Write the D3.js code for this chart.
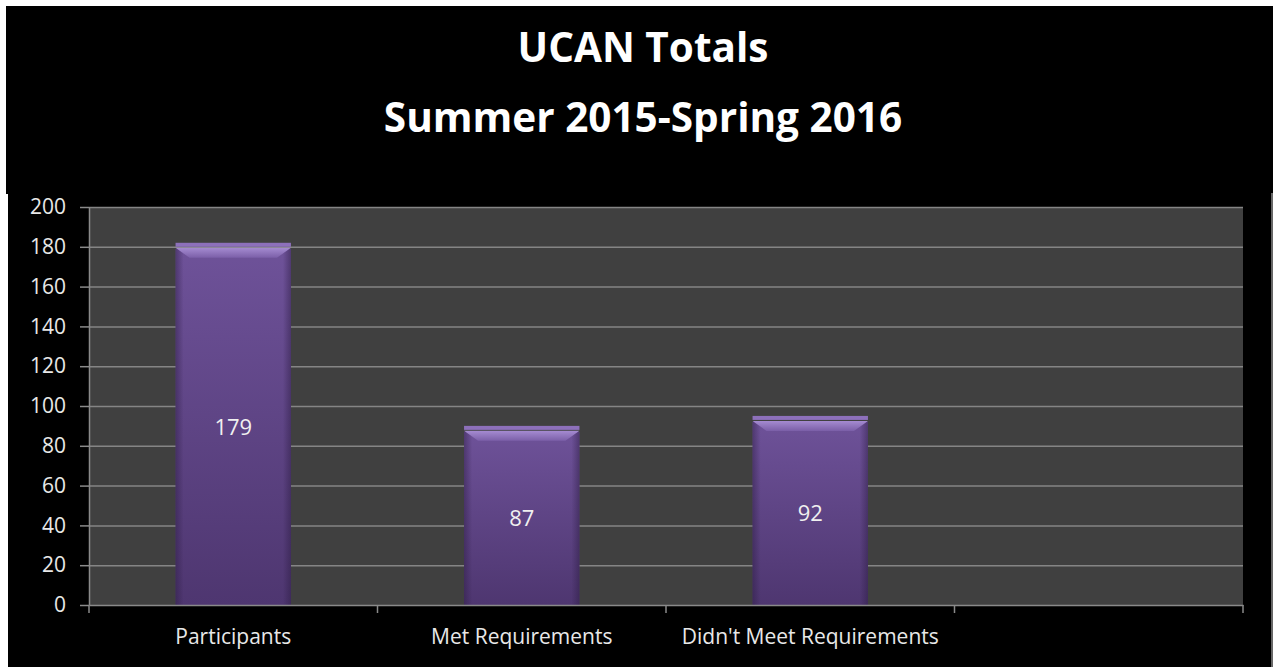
<!DOCTYPE html>
<html lang="en">
<head>
<meta charset="UTF-8">
<title>UCAN Totals</title>
<script src="https://d3js.org/d3.v7.min.js"></script>
<style>
html, body {
  margin: 0;
  padding: 0;
  background-color: white;
}
body {
  font-family: 'Open Sans', sans-serif;
}
.title {
  font-family: 'Open Sans', sans-serif;
  font-weight: bold;
  fill: white;
  text-anchor: middle;
}
.y-axis text, .x-axis text {
  font-family: 'Open Sans', sans-serif;
  font-size: 21px;
  fill: #e8e8e8;
}
.y-axis path, .x-axis path { stroke: #8a8a8a; stroke-width: 1.5; }
.y-axis line, .x-axis line { stroke: #8a8a8a; stroke-width: 1.5; }
.grid line { stroke: #858585; stroke-width: 1.5; }
.grid path { display: none; }
.bar-label {
  font-family: 'Open Sans', sans-serif;
  font-size: 22px;
  fill: #f0f0f0;
  text-anchor: middle;
}
</style>
</head>
<body>
<div id="chart"></div>
<script>

// data
const categories = ["Participants", "Met Requirements", "Didn't Meet Requirements", ""];
const values = [179, 87, 92, null];
const yTicks = [0, 20, 40, 60, 80, 100, 120, 140, 160, 180, 200];
const titleLines = ["UCAN Totals", "Summer 2015-Spring 2016"];

// size
const totalWidth = 1273, totalHeight = 667;
const margin = {top: 207, right: 30, bottom: 62, left: 89};

const svg = d3.select("#chart").append("svg")
  .attr("width", totalWidth)
  .attr("height", totalHeight)
  .style("display", "block");

// backgrounds
svg.append("rect").attr("x", 6).attr("y", 6)
  .attr("width", totalWidth - 6).attr("height", 188).attr("fill", "black");
svg.append("rect").attr("x", 8).attr("y", 193)
  .attr("width", totalWidth - 8).attr("height", totalHeight - 193).attr("fill", "black");
svg.append("line")
  .attr("x1", totalWidth - 1).attr("x2", totalWidth - 1)
  .attr("y1", 193).attr("y2", totalHeight)
  .attr("stroke", "#8a8a8a").attr("stroke-width", 1.5);

// title
svg.selectAll(".title")
  .data(titleLines)
  .join("text")
  .attr("class", "title")
  .attr("x", 643)
  .attr("y", (d, i) => i === 0 ? 62 : 132)
  .style("font-size", "40.5px")
  .text(d => d);

// scales
const x = d3.scaleBand()
  .domain(categories)
  .range([margin.left, totalWidth - margin.right])
  .padding(0);

const y = d3.scaleLinear()
  .domain([0, 200])
  .range([totalHeight - margin.bottom, margin.top]);

// plot area
svg.append("rect")
  .attr("x", margin.left)
  .attr("y", y(200))
  .attr("width", x.range()[1] - margin.left)
  .attr("height", y(0) - y(200))
  .attr("fill", "#404040");

// gridlines
svg.append("g")
  .attr("class", "grid")
  .attr("transform", `translate(${margin.left},0)`)
  .call(d3.axisLeft(y).tickValues(yTicks.slice(1))
    .tickSize(-(x.range()[1] - margin.left)).tickFormat(""));

// gradients
const defs = svg.append("defs");
const barGrad = defs.append("linearGradient")
  .attr("id", "bar-grad").attr("x1", 0).attr("y1", 0).attr("x2", 0).attr("y2", 1);
barGrad.append("stop").attr("offset", 0).attr("stop-color", "#6e5299");
barGrad.append("stop").attr("offset", 1).attr("stop-color", "#4e3670");

const sideGrad = defs.append("linearGradient")
  .attr("id", "side-grad").attr("x1", 0).attr("y1", 0).attr("x2", 1).attr("y2", 0);
sideGrad.append("stop").attr("offset", 0).attr("stop-color", "#2a1a40").attr("stop-opacity", 0.45);
sideGrad.append("stop").attr("offset", 0.07).attr("stop-color", "#2a1a40").attr("stop-opacity", 0);
sideGrad.append("stop").attr("offset", 0.93).attr("stop-color", "#2a1a40").attr("stop-opacity", 0);
sideGrad.append("stop").attr("offset", 1).attr("stop-color", "#2a1a40").attr("stop-opacity", 0.45);

const capGrad = defs.append("linearGradient")
  .attr("id", "cap-grad").attr("x1", 0).attr("y1", 0).attr("x2", 0).attr("y2", 1);
capGrad.append("stop").attr("offset", 0).attr("stop-color", "#a58bd1");
capGrad.append("stop").attr("offset", 1).attr("stop-color", "#7b5fa8");

// bars
const data = categories.map((c, i) => ({cat: c, value: values[i]})).filter(d => d.value != null);
const barW = x.bandwidth() * 0.4;
const bx = d => x(d.cat) + (x.bandwidth() - barW) / 2;

const bars = svg.append("g").selectAll("g")
  .data(data)
  .join("g");

bars.append("rect")
  .attr("x", bx)
  .attr("y", d => y(d.value))
  .attr("width", barW)
  .attr("height", d => y(0) - y(d.value))
  .attr("fill", "url(#bar-grad)");

bars.append("rect")
  .attr("x", bx)
  .attr("y", d => y(d.value))
  .attr("width", barW)
  .attr("height", d => y(0) - y(d.value))
  .attr("fill", "url(#side-grad)");

// top strip
bars.append("rect")
  .attr("x", bx)
  .attr("y", d => y(d.value) - 6)
  .attr("width", barW)
  .attr("height", 4)
  .attr("fill", "#8d70bb");

// bevel
bars.append("path")
  .attr("d", d => {
    const x0 = bx(d), y0 = y(d.value) - 1;
    return `M${x0},${y0}L${x0 + barW},${y0}L${x0 + barW - 14},${y0 + 10}L${x0 + 14},${y0 + 10}Z`;
  })
  .attr("fill", "url(#cap-grad)");

bars.append("text")
  .attr("class", "bar-label")
  .attr("x", d => bx(d) + barW / 2)
  .attr("y", d => (y(d.value) + y(0)) / 2)
  .attr("dy", "0.35em")
  .text(d => d.value);

// axes
svg.append("g")
  .attr("class", "y-axis")
  .attr("transform", `translate(${margin.left},0)`)
  .call(d3.axisLeft(y).tickValues(yTicks).tickSize(9).tickPadding(14).tickSizeOuter(0));

const xAxis = svg.append("g")
  .attr("class", "x-axis")
  .attr("transform", `translate(0,${y(0)})`)
  .call(d3.axisBottom(x).tickSize(0).tickSizeOuter(0).tickPadding(24));

// category boundary ticks
xAxis.selectAll(".boundary")
  .data(categories.map(c => x(c)).concat([x.range()[1]]))
  .join("line")
  .attr("class", "boundary")
  .attr("x1", d => d).attr("x2", d => d)
  .attr("y1", 0).attr("y2", 8);

</script>
</body>
</html>
